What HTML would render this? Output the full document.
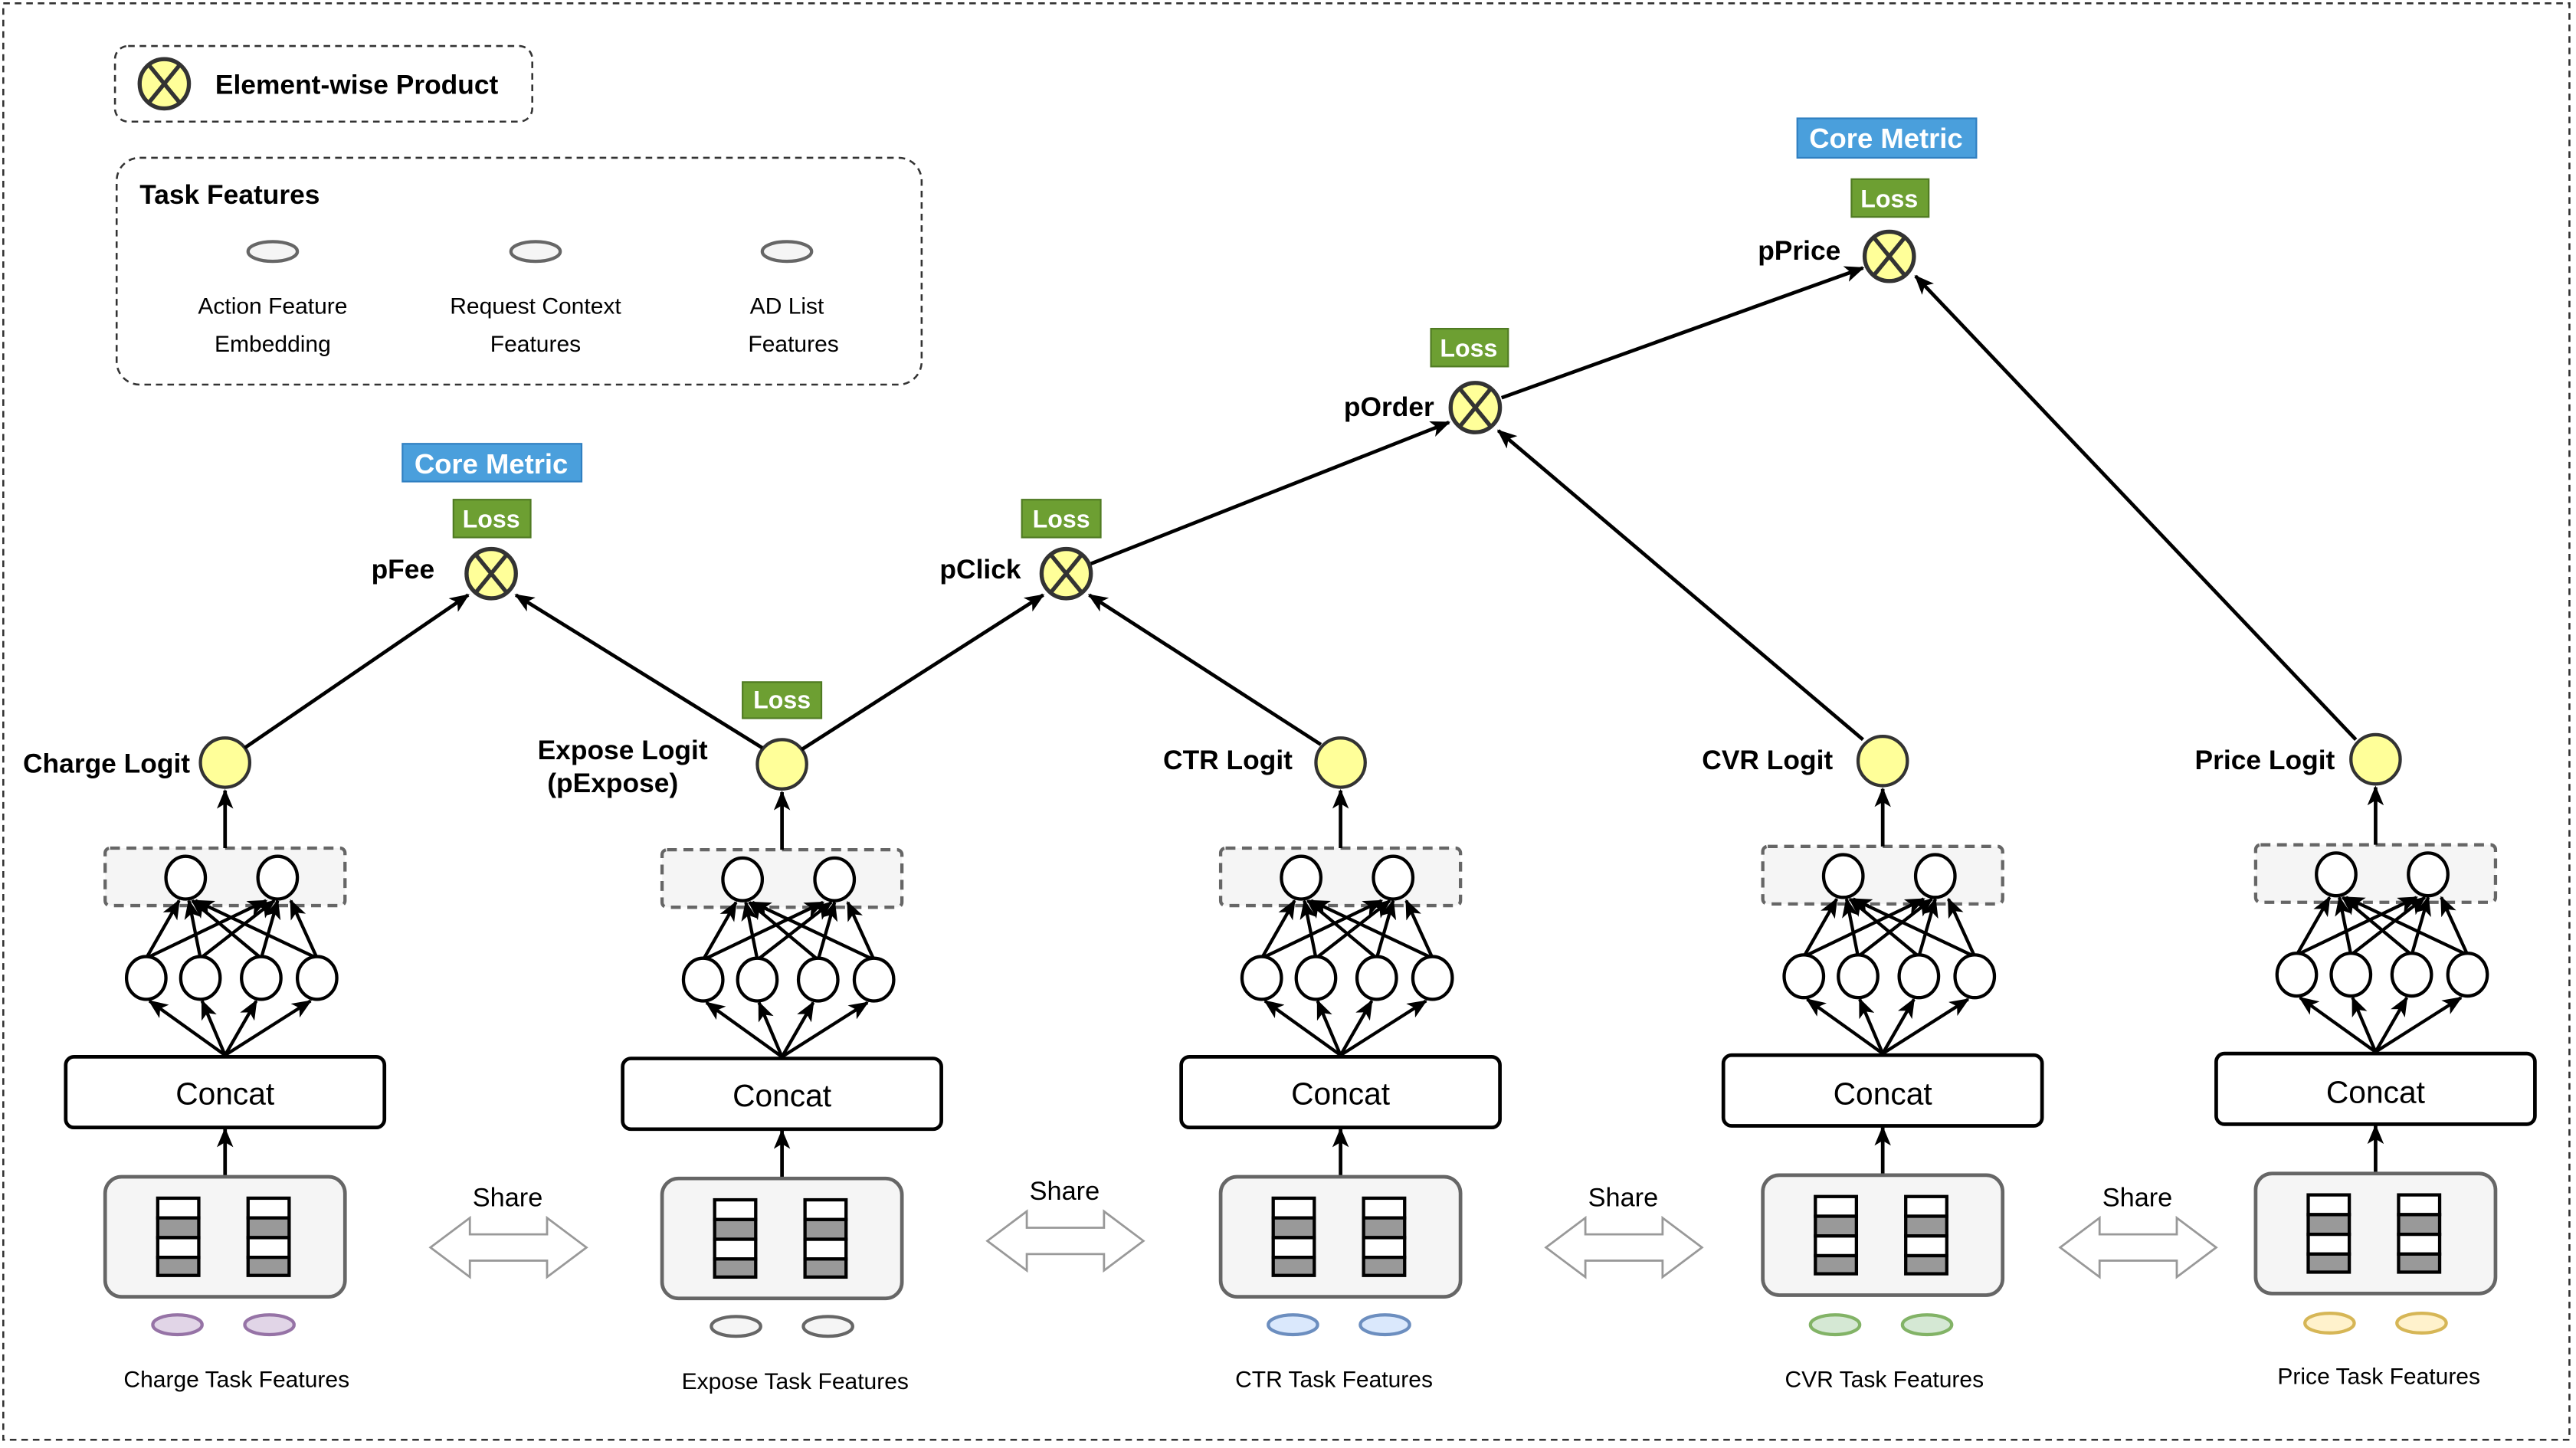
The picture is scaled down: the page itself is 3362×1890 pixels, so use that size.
<!DOCTYPE html>
<html><head><meta charset="utf-8"><style>
html,body{margin:0;padding:0;background:#fff;}
svg{display:block;}
text{font-family:"Liberation Sans",Arial,sans-serif;}
</style></head><body>
<svg width="3362" height="1890" viewBox="0 0 1568 881" preserveAspectRatio="none" xmlns="http://www.w3.org/2000/svg">
<defs>
<marker id="ah" viewBox="0 0 12 10" refX="11" refY="5" markerWidth="12" markerHeight="10" orient="auto" markerUnits="userSpaceOnUse">
<path d="M0,0 L12,5 L0,10 L3,5 z" fill="#000"/>
</marker>
<g id="net">
<rect x="-73" y="516" width="146" height="35" rx="3" fill="#f5f5f5" stroke="#666" stroke-width="2" stroke-dasharray="6,4"/>
<line x1="0" y1="516" x2="0" y2="481" stroke="#000" stroke-width="2.2" marker-end="url(#ah)"/>
<g stroke="#000" stroke-width="2" marker-end="url(#ah)">
<line x1="0" y1="642" x2="-46" y2="609"/>
<line x1="0" y1="642" x2="-14" y2="609"/>
<line x1="0" y1="642" x2="19" y2="609"/>
<line x1="0" y1="642" x2="52" y2="609"/>
<line x1="-48" y1="583" x2="-28" y2="548"/>
<line x1="-48" y1="583" x2="25" y2="548"/>
<line x1="-15" y1="583" x2="-22" y2="548"/>
<line x1="-15" y1="583" x2="30" y2="548"/>
<line x1="22" y1="583" x2="-20" y2="548"/>
<line x1="22" y1="583" x2="32" y2="548"/>
<line x1="56" y1="583" x2="-18" y2="548"/>
<line x1="56" y1="583" x2="40" y2="548"/>
</g>
<g fill="#fff" stroke="#000" stroke-width="2">
<ellipse cx="-24" cy="534" rx="12" ry="13"/>
<ellipse cx="32" cy="534" rx="12" ry="13"/>
<ellipse cx="-48" cy="595" rx="12" ry="13"/>
<ellipse cx="-15" cy="595" rx="12" ry="13"/>
<ellipse cx="22" cy="595" rx="12" ry="13"/>
<ellipse cx="56" cy="595" rx="12" ry="13"/>
</g>
<rect x="-97" y="643" width="194" height="43" rx="5" fill="#fff" stroke="#000" stroke-width="2.2"/>
<line x1="0" y1="716" x2="0" y2="687" stroke="#000" stroke-width="2.2" marker-end="url(#ah)"/>
<rect x="-73" y="716" width="146" height="73" rx="10" fill="#f5f5f5" stroke="#666" stroke-width="2.2"/>
<g stroke="#000" stroke-width="2">
<rect x="-41" y="729" width="25" height="12" fill="#fff"/><rect x="-41" y="741" width="25" height="12" fill="#999"/><rect x="-41" y="753" width="25" height="12" fill="#fff"/><rect x="-41" y="765" width="25" height="11" fill="#999"/>
<rect x="14" y="729" width="25" height="12" fill="#fff"/><rect x="14" y="741" width="25" height="12" fill="#999"/><rect x="14" y="753" width="25" height="12" fill="#fff"/><rect x="14" y="765" width="25" height="11" fill="#999"/>
</g>
<circle cx="0" cy="464" r="15" fill="#ffff99" stroke="#333" stroke-width="2"/>
</g>
<g id="prod">
<circle cx="0" cy="0" r="15" fill="#ffff99" stroke="#333" stroke-width="2.5"/>
<line x1="-9" y1="-11" x2="9" y2="11" stroke="#333" stroke-width="2.5"/>
<line x1="9" y1="-11" x2="-9" y2="11" stroke="#333" stroke-width="2.5"/>
</g>
<g id="share">
<path d="M0,0 L24,-18 L24,-8 L71,-8 L71,-18 L95,0 L71,18 L71,8 L24,8 L24,18 Z" fill="#fff" stroke="#999" stroke-width="1.3"/>
</g>
</defs>

<rect x="2" y="2" width="1562" height="874" fill="none" stroke="#333" stroke-width="1.2" stroke-dasharray="4,3"/>

<rect x="70" y="28" width="254" height="46" rx="8" fill="none" stroke="#333" stroke-width="1.2" stroke-dasharray="4,3"/>
<use href="#prod" x="100" y="51"/>
<text x="131" y="57" font-size="16.5" font-weight="bold">Element-wise Product</text>
<rect x="71" y="96" width="490" height="138" rx="14" fill="none" stroke="#333" stroke-width="1.2" stroke-dasharray="4,3"/>
<text x="85" y="124" font-size="16.5" font-weight="bold">Task Features</text>
<g fill="#f5f5f5" stroke="#666" stroke-width="2">
<ellipse cx="166" cy="153" rx="15" ry="6"/><ellipse cx="326" cy="153" rx="15" ry="6"/><ellipse cx="479" cy="153" rx="15" ry="6"/>
</g>
<g font-size="14" text-anchor="middle">
<text x="166" y="191">Action Feature</text><text x="166" y="214">Embedding</text>
<text x="326" y="191">Request Context</text><text x="326" y="214">Features</text>
<text x="479" y="191">AD List</text><text x="483" y="214">Features</text>
</g>

<use href="#net" x="137" y="0"/>
<use href="#net" x="476" y="1"/>
<use href="#net" x="816" y="0"/>
<use href="#net" x="1146" y="-1"/>
<use href="#net" x="1446" y="-2"/>

<g font-size="19" text-anchor="middle">
<text x="137" y="672">Concat</text><text x="476" y="673">Concat</text><text x="816" y="672">Concat</text><text x="1146" y="672">Concat</text><text x="1446" y="671">Concat</text>
</g>

<g stroke-width="2">
<ellipse cx="108" cy="806" rx="15" ry="6" fill="#e1d5e7" stroke="#9673a6"/><ellipse cx="164" cy="806" rx="15" ry="6" fill="#e1d5e7" stroke="#9673a6"/>
<ellipse cx="448" cy="807" rx="15" ry="6" fill="#f5f5f5" stroke="#666"/><ellipse cx="504" cy="807" rx="15" ry="6" fill="#f5f5f5" stroke="#666"/>
<ellipse cx="787" cy="806" rx="15" ry="6" fill="#dae8fc" stroke="#6c8ebf"/><ellipse cx="843" cy="806" rx="15" ry="6" fill="#dae8fc" stroke="#6c8ebf"/>
<ellipse cx="1117" cy="806" rx="15" ry="6" fill="#d5e8d4" stroke="#82b366"/><ellipse cx="1173" cy="806" rx="15" ry="6" fill="#d5e8d4" stroke="#82b366"/>
<ellipse cx="1418" cy="805" rx="15" ry="6" fill="#fff2cc" stroke="#d6b656"/><ellipse cx="1474" cy="805" rx="15" ry="6" fill="#fff2cc" stroke="#d6b656"/>
</g>
<g font-size="14" text-anchor="middle">
<text x="144" y="844">Charge Task Features</text>
<text x="484" y="845">Expose Task Features</text>
<text x="812" y="844">CTR Task Features</text>
<text x="1147" y="844">CVR Task Features</text>
<text x="1448" y="842">Price Task Features</text>
</g>

<use href="#share" x="262" y="759"/>
<use href="#share" x="601" y="755"/>
<use href="#share" x="941" y="759"/>
<use href="#share" x="1254" y="759"/>
<g font-size="16" text-anchor="middle">
<text x="309" y="734">Share</text><text x="648" y="730">Share</text><text x="988" y="734">Share</text><text x="1301" y="734">Share</text>
</g>

<g font-size="16.5" font-weight="bold">
<text x="14" y="470">Charge Logit</text>
<text x="379" y="462" text-anchor="middle">Expose Logit</text>
<text x="373" y="482" text-anchor="middle">(pExpose)</text>
<text x="708" y="468">CTR Logit</text>
<text x="1036" y="468">CVR Logit</text>
<text x="1336" y="468">Price Logit</text>
<text x="226" y="352">pFee</text>
<text x="572" y="352">pClick</text>
<text x="818" y="253">pOrder</text>
<text x="1070" y="158">pPrice</text>
</g>

<g stroke="#000" stroke-width="2.2" marker-end="url(#ah)">
<line x1="149" y1="455" x2="285" y2="362"/>
<line x1="464" y1="455" x2="314" y2="362"/>
<line x1="488" y1="456" x2="635" y2="362"/>
<line x1="804" y1="453" x2="663" y2="362"/>
<line x1="664" y1="343" x2="882" y2="257"/>
<line x1="1134" y1="450" x2="912" y2="262"/>
<line x1="914" y1="242" x2="1134" y2="163"/>
<line x1="1434" y1="450" x2="1166" y2="168"/>
</g>
<use href="#prod" x="299" y="349"/>
<use href="#prod" x="649" y="349"/>
<use href="#prod" x="898" y="248"/>
<use href="#prod" x="1150" y="156"/>

<g fill="#6d9f32" stroke="#4f7a22" stroke-width="1">
<rect x="276" y="304" width="47" height="23"/>
<rect x="622" y="304" width="48" height="23"/>
<rect x="452" y="415" width="48" height="22"/>
<rect x="871" y="200" width="47" height="23"/>
<rect x="1127" y="109" width="47" height="23"/>
</g>
<g fill="#4a9fdc" stroke="#2f7fc1" stroke-width="1">
<rect x="245" y="270" width="109" height="23"/>
<rect x="1094" y="72" width="109" height="24"/>
</g>
<g fill="#fff" font-size="15" font-weight="bold" text-anchor="middle">
<text x="299" y="321">Loss</text><text x="646" y="321">Loss</text><text x="476" y="431">Loss</text><text x="894" y="217">Loss</text><text x="1150" y="126">Loss</text>
<text x="299" y="288" font-size="17">Core Metric</text><text x="1148" y="90" font-size="17">Core Metric</text>
</g>
</svg>
</body></html>
